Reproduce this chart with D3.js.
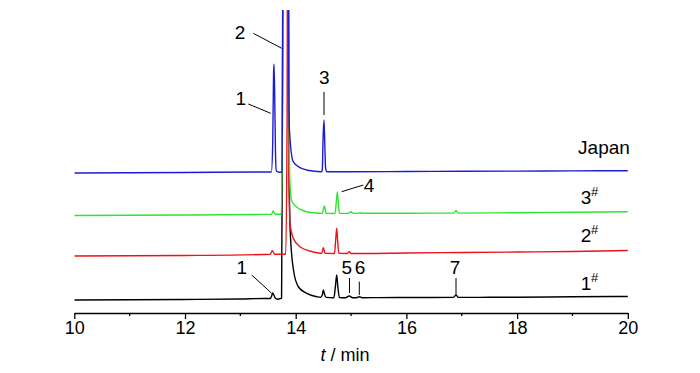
<!DOCTYPE html>
<html>
<head>
<meta charset="utf-8">
<script src="https://cdn.jsdelivr.net/npm/d3@7"></script>
<style>
  body { margin: 0; background: #fff; }
  text { font-family: "Liberation Sans Narrow", "Arial Narrow", "Liberation Sans", Arial, sans-serif; fill: #000; }
</style>
</head>
<body>
<div id="chart"></div>
<script>
// 色谱图数据（从图中读取，单位为任意强度）
const xTicks = [10, 12, 14, 16, 18, 20];
const xMinorTicks = [11, 13, 15, 17, 19];

// 1# 样品（黑色）
const t1 = [10, 11, 12, 13, 13.45, 13.54, 13.565, 13.585, 13.605, 13.63, 13.67, 13.72, 13.745, 13.76, 13.775, 13.86, 13.87, 13.88, 13.9, 13.96, 14.05, 14.2, 14.38, 14.45, 14.48, 14.499, 14.52, 14.55, 14.69, 14.72, 14.741, 14.76, 14.79, 14.9, 14.968, 15.03, 15.1, 15.149, 15.2, 15.5, 16, 16.85, 16.896, 16.94, 17.5, 18, 19, 20];
const v1 = [13, 13.2, 13.5, 14, 14.5, 14.5, 17, 20, 18, 15, 13.8, 14.3, 15, 200, 400, 400, 300, 150, 83, 43, 26, 19.7, 16.3, 15.7, 18, 23, 19, 15.6, 15.2, 28, 38, 27, 15.4, 15.2, 17, 15.3, 15.3, 16.3, 15.3, 15.4, 15.5, 15.6, 18, 15.6, 15.7, 15.8, 16.2, 16.5];

// 2# 样品（红色）
const t2 = [10, 12, 13.4, 13.54, 13.577, 13.62, 13.82, 13.845, 13.852, 13.862, 13.875, 13.897, 13.957, 14.077, 14.258, 14.44, 14.47, 14.499, 14.53, 14.7, 14.725, 14.741, 14.758, 14.78, 14.93, 14.968, 15.0, 15.2, 16, 17, 18, 19, 20];
const v2 = [57, 57.5, 58.5, 58.7, 62.3, 58.7, 58.7, 200, 400, 400, 150, 89.7, 74.7, 66.3, 62, 59.7, 59.6, 65.3, 59.6, 59.5, 75, 84.7, 72, 59.6, 59.5, 61.3, 59.5, 59.5, 60, 60.5, 61, 61.5, 62.5];

// 3# 样品（绿色）
const t3 = [10, 12, 13.4, 13.56, 13.595, 13.63, 13.74, 13.758, 13.77, 13.87, 13.885, 13.9, 13.928, 14.018, 14.2, 14.44, 14.48, 14.517, 14.55, 14.71, 14.735, 14.752, 14.77, 14.79, 14.95, 14.994, 15.04, 15.12, 15.162, 15.2, 16, 16.85, 16.896, 16.94, 18, 19, 20];
const v3 = [97.5, 98, 98.6, 98.7, 102, 98.7, 98.7, 200, 400, 400, 160, 125, 112, 106, 101.3, 99.7, 99.6, 107, 99.6, 99.5, 112, 120.7, 110, 99.6, 99.6, 101.3, 99.6, 99.6, 100.3, 99.7, 99.8, 99.9, 102.2, 99.9, 100.3, 100.8, 101.3];

// Japan 样品（蓝色）
const t4 = [10, 12, 13.4, 13.56, 13.585, 13.6, 13.608, 13.62, 13.635, 13.65, 13.7, 13.755, 13.772, 13.862, 13.875, 13.889, 13.955, 14.077, 14.2, 14.4, 14.47, 14.48, 14.495, 14.511, 14.525, 14.54, 14.56, 15, 16, 17, 18, 19, 20];
const v4 = [140, 140.5, 141, 141, 170, 240, 248.7, 220, 160, 142, 140.7, 141, 400, 400, 230, 181, 151.3, 145.3, 143, 141.5, 141.3, 143, 175, 193, 170, 145, 141.3, 141.3, 141.5, 141.7, 141.9, 142.1, 142.3];

const seriesNames = ["1#", "2#", "3#", "Japan"];
const seriesColors = ["#000000", "#e8141c", "#2ee62e", "#1c1cd2"];
const seriesTimes = [t1, t2, t3, t4];
const seriesValues = [v1, v2, v3, v4];

// 峰标注
const peakLabels = ["1", "2", "3", "4", "1", "5", "6", "7"];

// 尺寸
const width = 700, height = 373;
const plot = {left: 74.3, right: 627.8, top: 10, bottom: 313};

const svg = d3.select("#chart")
    .append("svg")
    .attr("width", width)
    .attr("height", height);

// X轴比例尺
const x = d3.scaleLinear()
    .domain([10, 20])
    .range([plot.left, plot.right]);

// Y轴比例尺
const y = d3.scaleLinear()
    .domain([0, 303])
    .range([plot.bottom, plot.top]);

// 裁剪区域（主峰超出顶部）
svg.append("defs").append("clipPath")
    .attr("id", "clip")
    .append("rect")
    .attr("x", plot.left)
    .attr("y", plot.top)
    .attr("width", plot.right - plot.left + 2)
    .attr("height", plot.bottom - plot.top);

const line = d3.line()
    .x(d => x(d[0]))
    .y(d => y(d[1]))
    .curve(d3.curveMonotoneX);

const traces = svg.append("g").attr("clip-path", "url(#clip)");
seriesNames.forEach((name, i) => {
    const pts = seriesTimes[i].map((t, j) => [t, seriesValues[i][j]]);
    traces.append("path")
        .datum(pts)
        .attr("fill", "none")
        .attr("stroke", seriesColors[i])
        .attr("stroke-width", 1.4)
        .attr("d", line);
});

// X轴
const xAxis = svg.append("g")
    .attr("transform", `translate(0, ${plot.bottom})`)
    .call(d3.axisBottom(x).tickValues(xTicks).tickSize(6).tickSizeOuter(0).tickPadding(2));
xAxis.select(".domain").attr("stroke-width", 1.5);
xAxis.selectAll(".tick line").attr("stroke-width", 1.3);
xAxis.selectAll("text").style("font-size", "18px").attr("fill", "#000");

// 次刻度
xAxis.selectAll(".minor")
    .data(xMinorTicks)
    .enter().append("line")
    .attr("class", "minor")
    .attr("x1", d => x(d))
    .attr("x2", d => x(d))
    .attr("y1", 0)
    .attr("y2", 3)
    .attr("stroke", "#000")
    .attr("stroke-width", 1.3);

// X轴标题
const xTitle = svg.append("text")
    .attr("x", 345)
    .attr("y", 361)
    .attr("text-anchor", "middle")
    .style("font-size", "18px");
xTitle.append("tspan").style("font-style", "italic").text("t");
xTitle.append("tspan").text(" / min");

// 样品名称
const sampleLabelPos = [[586, 290], [586, 242], [586, 204], [604, 154]];
seriesNames.forEach((name, i) => {
    const p = sampleLabelPos[i];
    if (name.includes("#")) {
        svg.append("text")
            .attr("x", p[0])
            .attr("y", p[1])
            .attr("text-anchor", "middle")
            .style("font-size", "19px")
            .text(name.replace("#", ""));
        svg.append("text")
            .attr("x", p[0] + 5)
            .attr("y", p[1] - 8)
            .style("font-size", "13px")
            .text("#");
    } else {
        svg.append("text")
            .attr("x", p[0])
            .attr("y", p[1])
            .attr("text-anchor", "middle")
            .style("font-size", "19px")
            .text(name);
    }
});

// 峰标注文字与引线
const labelPos = [[240.7, 105], [240, 38.5], [324.3, 83.5], [369, 191.5], [241.7, 274], [346.7, 274], [360, 274], [455, 274]];
const leaderLines = [
    [248.3, 104, 270.7, 113.3],
    [253.3, 33.3, 281.7, 48.3],
    [324, 92, 324, 115],
    [341.7, 191.7, 363.3, 185],
    [251.7, 275, 271.7, 293.3],
    [349.5, 278, 349.5, 293],
    [359.3, 281.7, 359.3, 295],
    [456, 278, 456, 296]
];

svg.selectAll(".peak-label")
    .data(peakLabels)
    .enter().append("text")
    .attr("class", "peak-label")
    .attr("x", (d, i) => labelPos[i][0])
    .attr("y", (d, i) => labelPos[i][1])
    .attr("text-anchor", "middle")
    .style("font-size", "19px")
    .text(d => d);

svg.selectAll(".leader")
    .data(leaderLines)
    .enter().append("line")
    .attr("class", "leader")
    .attr("x1", d => d[0])
    .attr("y1", d => d[1])
    .attr("x2", d => d[2])
    .attr("y2", d => d[3])
    .attr("stroke", "#000")
    .attr("stroke-width", 1);
</script>
</body>
</html>
